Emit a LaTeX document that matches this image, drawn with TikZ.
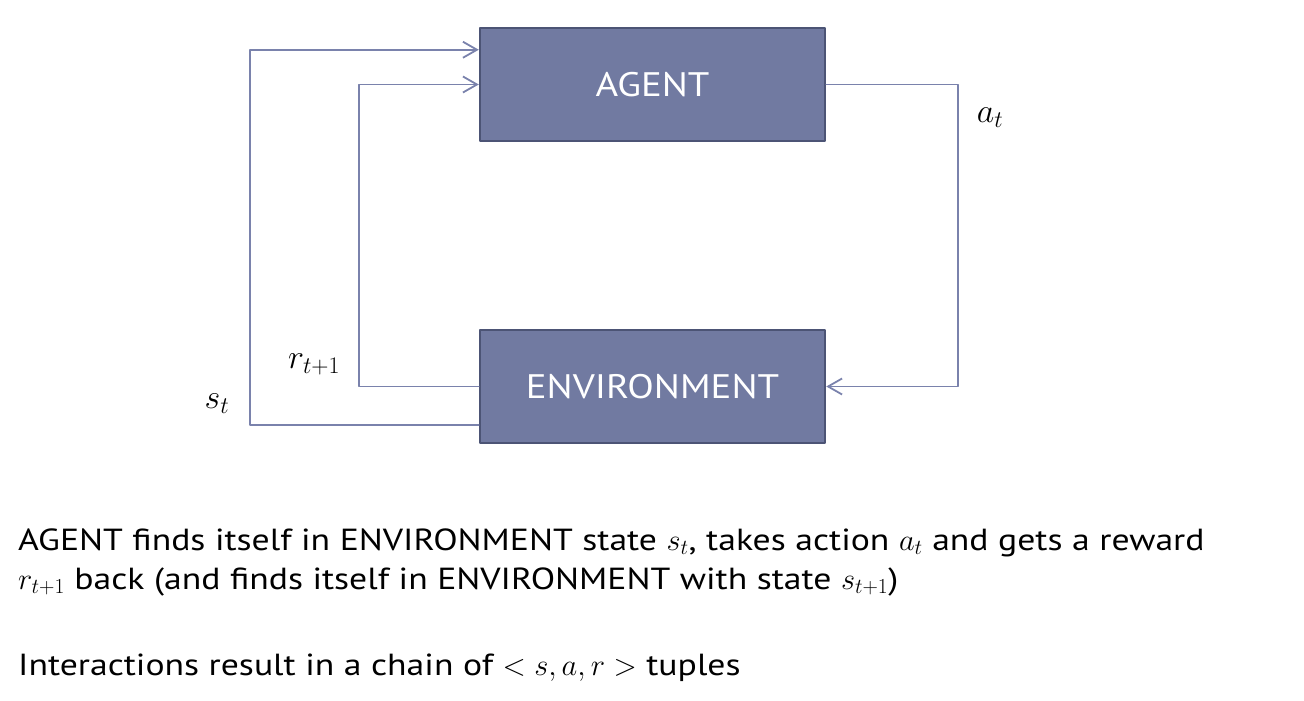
\documentclass[tikz,border=0pt]{standalone}
\usepackage{fix-cm}
\usepackage{fontspec}
\setmainfont{PT Sans}[FakeStretch=1.14]
\newfontfamily\capfont{PT Sans}[FakeStretch=1.17]
\usetikzlibrary{arrows.meta}
\definecolor{boxfill}{HTML}{717AA1}
\definecolor{boxline}{HTML}{4C5475}
\definecolor{linkcol}{HTML}{7A82AC}
\begin{document}
\begin{tikzpicture}[x=1pt, y=-1pt, line cap=round, line join=round, >={Straight Barb[length=14pt,width=16pt]}]
			\tikzset{box/.style={draw=boxline, line width=2.5pt, fill=boxfill, text=white, minimum width=345pt, minimum height=113pt, inner sep=0pt, font=\fontsize{34}{40}\selectfont},
				link/.style={draw=linkcol, line width=1.8pt},
				lab/.style={font=\fontsize{34}{40}\selectfont},
				txt/.style={anchor=base west, inner sep=0pt, font=\capfont\fontsize{30.5}{36}\selectfont}}
			\useasboundingbox (0,0) rectangle (1304,701);
			\node[box] (agent) at (652.5,84.5) {AGENT};
			\node[box] (env) at (652.5,386.5) {ENVIRONMENT};
			\draw[link, ->] (agent.east) -- ++(132,0) |- (env.east);
			\draw[link, ->] (env.west) -- ++(-120,0) |- (agent.west);
			\draw[link, ->] ([yshift=19pt]env.south west) -- ++(-229,0) |- ([yshift=-23pt]agent.north west);
			\node[lab] (at) at (990,118) {$a_t$};
			\node[lab] (rt) at (314,364) {$r_{t+1}$};
			\node[lab] (st) at (217,404) {$s_t$};
			\node[txt] (line1) at (18,550) {AGENT finds itself in ENVIRONMENT state $s_t$, takes action $a_t$ and gets a reward};
			\node[txt] (line2) at (18,589) {$r_{t+1}$ back (and finds itself in ENVIRONMENT with state $s_{t+1}$)};
			\node[txt] (line3) at (18,675) {Interactions result in a chain of $< s,a,r >$ tuples};
		\end{tikzpicture}
\end{document}
